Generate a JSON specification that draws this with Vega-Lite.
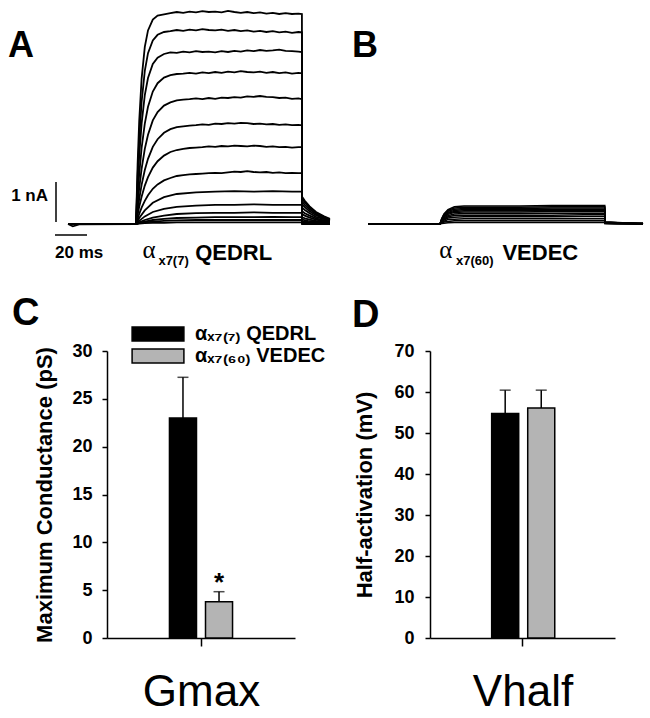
{
"$schema":"https://vega.github.io/schema/vega-lite/v6.json",
"padding":{"left":8,"top":0,"right":0,"bottom":0},
"autosize":{"type":"pad"},
"bounds":"flush",
"columns":2,
"spacing":{"row":61,"column":135},
"resolve":{"scale":{"color":"independent"}},
"config":{"font":"Liberation Sans","view":{"stroke":null},"axis":{"labelColor":"black","titleColor":"black","domainColor":"black","tickColor":"black","labelFont":"Liberation Sans","titleFont":"Liberation Sans","grid":false},"title":{"color":"black","font":"Liberation Sans"},"text":{"color":"black"}},
"datasets":{
"tracesA":[
{"s":1,"t":0,"i":0},{"s":1,"t":3,"i":-0.06},{"s":1,"t":7,"i":-0.01},{"s":1,"t":42.5,"i":0},{"s":1,"t":43.5,"i":1.49},{"s":1,"t":44.5,"i":2.57},{"s":1,"t":46,"i":3.63},{"s":1,"t":48,"i":4.43},{"s":1,"t":50,"i":4.84},{"s":1,"t":53,"i":5.11},{"s":1,"t":56,"i":5.21},{"s":1,"t":60,"i":5.24},{"s":1,"t":64,"i":5.27},{"s":1,"t":68,"i":5.30},{"s":1,"t":72,"i":5.28},{"s":1,"t":76,"i":5.31},{"s":1,"t":80,"i":5.29},{"s":1,"t":84,"i":5.32},{"s":1,"t":88,"i":5.30},{"s":1,"t":92,"i":5.31},{"s":1,"t":96,"i":5.29},{"s":1,"t":100,"i":5.33},{"s":1,"t":104,"i":5.30},{"s":1,"t":108,"i":5.28},{"s":1,"t":112,"i":5.30},{"s":1,"t":116,"i":5.27},{"s":1,"t":120,"i":5.29},{"s":1,"t":124,"i":5.26},{"s":1,"t":128,"i":5.28},{"s":1,"t":132,"i":5.25},{"s":1,"t":136,"i":5.27},{"s":1,"t":140,"i":5.25},{"s":1,"t":144,"i":5.26},{"s":1,"t":146.2,"i":5.25},{"s":1,"t":146.3,"i":0.68},{"s":1,"t":148,"i":0.58},{"s":1,"t":151,"i":0.44},{"s":1,"t":155,"i":0.30},{"s":1,"t":160,"i":0.19},{"s":1,"t":163.7,"i":0.13},
{"s":2,"t":0,"i":0},{"s":2,"t":42.5,"i":0},{"s":2,"t":43.5,"i":1.20},{"s":2,"t":44.5,"i":2.10},{"s":2,"t":46,"i":3.05},{"s":2,"t":48,"i":3.83},{"s":2,"t":50,"i":4.27},{"s":2,"t":53,"i":4.59},{"s":2,"t":56,"i":4.73},{"s":2,"t":60,"i":4.80},{"s":2,"t":64,"i":4.82},{"s":2,"t":68,"i":4.85},{"s":2,"t":72,"i":4.83},{"s":2,"t":76,"i":4.86},{"s":2,"t":80,"i":4.84},{"s":2,"t":84,"i":4.87},{"s":2,"t":88,"i":4.85},{"s":2,"t":92,"i":4.84},{"s":2,"t":96,"i":4.86},{"s":2,"t":100,"i":4.83},{"s":2,"t":104,"i":4.85},{"s":2,"t":108,"i":4.82},{"s":2,"t":112,"i":4.84},{"s":2,"t":116,"i":4.81},{"s":2,"t":120,"i":4.83},{"s":2,"t":124,"i":4.80},{"s":2,"t":128,"i":4.82},{"s":2,"t":132,"i":4.79},{"s":2,"t":136,"i":4.81},{"s":2,"t":140,"i":4.78},{"s":2,"t":144,"i":4.80},{"s":2,"t":146.2,"i":4.79},{"s":2,"t":146.3,"i":0.63},{"s":2,"t":148,"i":0.54},{"s":2,"t":151,"i":0.41},{"s":2,"t":155,"i":0.28},{"s":2,"t":160,"i":0.18},{"s":2,"t":163.7,"i":0.11},
{"s":3,"t":0,"i":0},{"s":3,"t":42.5,"i":0},{"s":3,"t":43.5,"i":0.95},{"s":3,"t":44.5,"i":1.70},{"s":3,"t":46,"i":2.51},{"s":3,"t":48,"i":3.22},{"s":3,"t":50,"i":3.65},{"s":3,"t":53,"i":4.00},{"s":3,"t":56,"i":4.16},{"s":3,"t":60,"i":4.25},{"s":3,"t":64,"i":4.29},{"s":3,"t":68,"i":4.28},{"s":3,"t":72,"i":4.31},{"s":3,"t":76,"i":4.29},{"s":3,"t":80,"i":4.32},{"s":3,"t":84,"i":4.30},{"s":3,"t":88,"i":4.31},{"s":3,"t":92,"i":4.29},{"s":3,"t":96,"i":4.32},{"s":3,"t":100,"i":4.30},{"s":3,"t":104,"i":4.33},{"s":3,"t":108,"i":4.31},{"s":3,"t":112,"i":4.34},{"s":3,"t":116,"i":4.32},{"s":3,"t":120,"i":4.35},{"s":3,"t":124,"i":4.33},{"s":3,"t":128,"i":4.34},{"s":3,"t":132,"i":4.36},{"s":3,"t":136,"i":4.33},{"s":3,"t":140,"i":4.32},{"s":3,"t":144,"i":4.31},{"s":3,"t":146.2,"i":4.30},{"s":3,"t":146.3,"i":0.56},{"s":3,"t":148,"i":0.48},{"s":3,"t":151,"i":0.37},{"s":3,"t":155,"i":0.25},{"s":3,"t":160,"i":0.16},{"s":3,"t":163.7,"i":0.10},
{"s":4,"t":0,"i":0},{"s":4,"t":42.5,"i":0},{"s":4,"t":43.5,"i":0.68},{"s":4,"t":44.5,"i":1.24},{"s":4,"t":46,"i":1.90},{"s":4,"t":48,"i":2.51},{"s":4,"t":50,"i":2.93},{"s":4,"t":53,"i":3.31},{"s":4,"t":56,"i":3.52},{"s":4,"t":60,"i":3.66},{"s":4,"t":64,"i":3.72},{"s":4,"t":68,"i":3.75},{"s":4,"t":72,"i":3.76},{"s":4,"t":76,"i":3.78},{"s":4,"t":80,"i":3.76},{"s":4,"t":84,"i":3.79},{"s":4,"t":88,"i":3.77},{"s":4,"t":92,"i":3.80},{"s":4,"t":96,"i":3.78},{"s":4,"t":100,"i":3.81},{"s":4,"t":104,"i":3.79},{"s":4,"t":108,"i":3.82},{"s":4,"t":112,"i":3.80},{"s":4,"t":116,"i":3.79},{"s":4,"t":120,"i":3.81},{"s":4,"t":124,"i":3.78},{"s":4,"t":128,"i":3.80},{"s":4,"t":132,"i":3.77},{"s":4,"t":136,"i":3.79},{"s":4,"t":140,"i":3.76},{"s":4,"t":144,"i":3.78},{"s":4,"t":146.2,"i":3.77},{"s":4,"t":146.3,"i":0.49},{"s":4,"t":148,"i":0.42},{"s":4,"t":151,"i":0.32},{"s":4,"t":155,"i":0.22},{"s":4,"t":160,"i":0.14},{"s":4,"t":163.7,"i":0.09},
{"s":5,"t":0,"i":0},{"s":5,"t":42.5,"i":0},{"s":5,"t":43.5,"i":0.48},{"s":5,"t":44.5,"i":0.89},{"s":5,"t":46,"i":1.38},{"s":5,"t":48,"i":1.88},{"s":5,"t":50,"i":2.23},{"s":5,"t":53,"i":2.59},{"s":5,"t":56,"i":2.80},{"s":5,"t":60,"i":2.96},{"s":5,"t":64,"i":3.04},{"s":5,"t":68,"i":3.09},{"s":5,"t":72,"i":3.11},{"s":5,"t":76,"i":3.12},{"s":5,"t":80,"i":3.14},{"s":5,"t":84,"i":3.12},{"s":5,"t":88,"i":3.15},{"s":5,"t":92,"i":3.13},{"s":5,"t":96,"i":3.16},{"s":5,"t":100,"i":3.15},{"s":5,"t":104,"i":3.17},{"s":5,"t":108,"i":3.16},{"s":5,"t":112,"i":3.19},{"s":5,"t":116,"i":3.18},{"s":5,"t":120,"i":3.20},{"s":5,"t":124,"i":3.18},{"s":5,"t":128,"i":3.17},{"s":5,"t":132,"i":3.15},{"s":5,"t":136,"i":3.16},{"s":5,"t":140,"i":3.13},{"s":5,"t":144,"i":3.14},{"s":5,"t":146.2,"i":3.12},{"s":5,"t":146.3,"i":0.41},{"s":5,"t":148,"i":0.35},{"s":5,"t":151,"i":0.27},{"s":5,"t":155,"i":0.18},{"s":5,"t":160,"i":0.12},{"s":5,"t":163.7,"i":0.07},
{"s":6,"t":0,"i":0},{"s":6,"t":42.5,"i":0},{"s":6,"t":43.5,"i":0.33},{"s":6,"t":44.5,"i":0.62},{"s":6,"t":46,"i":0.98},{"s":6,"t":48,"i":1.35},{"s":6,"t":50,"i":1.63},{"s":6,"t":53,"i":1.93},{"s":6,"t":56,"i":2.12},{"s":6,"t":60,"i":2.28},{"s":6,"t":64,"i":2.37},{"s":6,"t":68,"i":2.42},{"s":6,"t":72,"i":2.44},{"s":6,"t":76,"i":2.46},{"s":6,"t":80,"i":2.47},{"s":6,"t":84,"i":2.49},{"s":6,"t":88,"i":2.48},{"s":6,"t":92,"i":2.51},{"s":6,"t":96,"i":2.50},{"s":6,"t":100,"i":2.52},{"s":6,"t":104,"i":2.51},{"s":6,"t":108,"i":2.53},{"s":6,"t":112,"i":2.52},{"s":6,"t":116,"i":2.50},{"s":6,"t":120,"i":2.51},{"s":6,"t":124,"i":2.49},{"s":6,"t":128,"i":2.50},{"s":6,"t":132,"i":2.48},{"s":6,"t":136,"i":2.49},{"s":6,"t":140,"i":2.47},{"s":6,"t":144,"i":2.48},{"s":6,"t":146.2,"i":2.47},{"s":6,"t":146.3,"i":0.32},{"s":6,"t":148,"i":0.27},{"s":6,"t":151,"i":0.21},{"s":6,"t":155,"i":0.14},{"s":6,"t":160,"i":0.09},{"s":6,"t":163.7,"i":0.06},
{"s":7,"t":0,"i":0},{"s":7,"t":42.5,"i":0},{"s":7,"t":43.5,"i":0.23},{"s":7,"t":44.5,"i":0.43},{"s":7,"t":46,"i":0.68},{"s":7,"t":48,"i":0.96},{"s":7,"t":50,"i":1.17},{"s":7,"t":53,"i":1.41},{"s":7,"t":56,"i":1.57},{"s":7,"t":60,"i":1.71},{"s":7,"t":64,"i":1.80},{"s":7,"t":68,"i":1.85},{"s":7,"t":72,"i":1.88},{"s":7,"t":76,"i":1.90},{"s":7,"t":80,"i":1.91},{"s":7,"t":84,"i":1.92},{"s":7,"t":88,"i":1.94},{"s":7,"t":92,"i":1.93},{"s":7,"t":96,"i":1.95},{"s":7,"t":100,"i":1.94},{"s":7,"t":104,"i":1.96},{"s":7,"t":108,"i":1.95},{"s":7,"t":112,"i":1.94},{"s":7,"t":116,"i":1.96},{"s":7,"t":120,"i":1.95},{"s":7,"t":124,"i":1.93},{"s":7,"t":128,"i":1.94},{"s":7,"t":132,"i":1.92},{"s":7,"t":136,"i":1.93},{"s":7,"t":140,"i":1.91},{"s":7,"t":144,"i":1.92},{"s":7,"t":146.2,"i":1.92},{"s":7,"t":146.3,"i":0.25},{"s":7,"t":148,"i":0.21},{"s":7,"t":151,"i":0.16},{"s":7,"t":155,"i":0.11},{"s":7,"t":160,"i":0.07},{"s":7,"t":163.7,"i":0.04},
{"s":8,"t":0,"i":0},{"s":8,"t":42.5,"i":0},{"s":8,"t":43.5,"i":0.13},{"s":8,"t":44.5,"i":0.25},{"s":8,"t":46,"i":0.41},{"s":8,"t":48,"i":0.58},{"s":8,"t":50,"i":0.72},{"s":8,"t":53,"i":0.88},{"s":8,"t":56,"i":0.99},{"s":8,"t":60,"i":1.09},{"s":8,"t":64,"i":1.15},{"s":8,"t":68,"i":1.20},{"s":8,"t":72,"i":1.22},{"s":8,"t":76,"i":1.24},{"s":8,"t":80,"i":1.25},{"s":8,"t":84,"i":1.26},{"s":8,"t":88,"i":1.27},{"s":8,"t":92,"i":1.28},{"s":8,"t":96,"i":1.27},{"s":8,"t":100,"i":1.29},{"s":8,"t":104,"i":1.31},{"s":8,"t":108,"i":1.30},{"s":8,"t":112,"i":1.32},{"s":8,"t":116,"i":1.30},{"s":8,"t":120,"i":1.29},{"s":8,"t":124,"i":1.30},{"s":8,"t":128,"i":1.28},{"s":8,"t":132,"i":1.29},{"s":8,"t":136,"i":1.27},{"s":8,"t":140,"i":1.28},{"s":8,"t":144,"i":1.27},{"s":8,"t":146.2,"i":1.27},{"s":8,"t":146.3,"i":0.17},{"s":8,"t":148,"i":0.14},{"s":8,"t":151,"i":0.11},{"s":8,"t":155,"i":0.08},{"s":8,"t":160,"i":0.05},{"s":8,"t":163.7,"i":0.03},
{"s":9,"t":0,"i":0},{"s":9,"t":42.5,"i":0},{"s":9,"t":44.5,"i":0.15},{"s":9,"t":48,"i":0.34},{"s":9,"t":53,"i":0.53},{"s":9,"t":60,"i":0.67},{"s":9,"t":68,"i":0.75},{"s":9,"t":80,"i":0.79},{"s":9,"t":92,"i":0.81},{"s":9,"t":104,"i":0.82},{"s":9,"t":116,"i":0.81},{"s":9,"t":128,"i":0.82},{"s":9,"t":140,"i":0.81},{"s":9,"t":146.2,"i":0.81},{"s":9,"t":146.3,"i":0.11},{"s":9,"t":150,"i":0.08},{"s":9,"t":155,"i":0.06},{"s":9,"t":163.7,"i":0.02},
{"s":10,"t":0,"i":0},{"s":10,"t":42.5,"i":0},{"s":10,"t":44.5,"i":0.08},{"s":10,"t":48,"i":0.19},{"s":10,"t":53,"i":0.30},{"s":10,"t":60,"i":0.38},{"s":10,"t":68,"i":0.43},{"s":10,"t":80,"i":0.46},{"s":10,"t":92,"i":0.48},{"s":10,"t":104,"i":0.48},{"s":10,"t":116,"i":0.49},{"s":10,"t":128,"i":0.48},{"s":10,"t":140,"i":0.48},{"s":10,"t":146.2,"i":0.48},{"s":10,"t":146.3,"i":0.07},{"s":10,"t":150,"i":0.05},{"s":10,"t":155,"i":0.04},{"s":10,"t":163.7,"i":0.01},
{"s":11,"t":0,"i":0},{"s":11,"t":42.5,"i":0},{"s":11,"t":44.5,"i":0.04},{"s":11,"t":48,"i":0.10},{"s":11,"t":53,"i":0.16},{"s":11,"t":60,"i":0.21},{"s":11,"t":68,"i":0.25},{"s":11,"t":80,"i":0.27},{"s":11,"t":92,"i":0.28},{"s":11,"t":104,"i":0.28},{"s":11,"t":116,"i":0.29},{"s":11,"t":128,"i":0.28},{"s":11,"t":140,"i":0.28},{"s":11,"t":146.2,"i":0.28},{"s":11,"t":146.3,"i":0.04},{"s":11,"t":150,"i":0.03},{"s":11,"t":155,"i":0.02},{"s":11,"t":163.7,"i":0.01},
{"s":12,"t":0,"i":0},{"s":12,"t":42.5,"i":0},{"s":12,"t":44.5,"i":0.03},{"s":12,"t":48,"i":0.06},{"s":12,"t":53,"i":0.10},{"s":12,"t":60,"i":0.13},{"s":12,"t":68,"i":0.15},{"s":12,"t":80,"i":0.16},{"s":12,"t":92,"i":0.17},{"s":12,"t":104,"i":0.17},{"s":12,"t":116,"i":0.17},{"s":12,"t":128,"i":0.18},{"s":12,"t":140,"i":0.17},{"s":12,"t":146.2,"i":0.17},{"s":12,"t":146.3,"i":0.02},{"s":12,"t":150,"i":0.01},{"s":12,"t":155,"i":0.01},{"s":12,"t":163.7,"i":0},
{"s":13,"t":0,"i":0},{"s":13,"t":42.5,"i":0},{"s":13,"t":44.5,"i":0.02},{"s":13,"t":48,"i":0.04},{"s":13,"t":53,"i":0.06},{"s":13,"t":60,"i":0.08},{"s":13,"t":68,"i":0.09},{"s":13,"t":80,"i":0.10},{"s":13,"t":92,"i":0.10},{"s":13,"t":104,"i":0.10},{"s":13,"t":116,"i":0.10},{"s":13,"t":128,"i":0.10},{"s":13,"t":140,"i":0.10},{"s":13,"t":146.2,"i":0.10},{"s":13,"t":146.3,"i":0.01},{"s":13,"t":150,"i":0.01},{"s":13,"t":155,"i":0},{"s":13,"t":163.7,"i":0},
{"s":14,"t":0,"i":0},{"s":14,"t":42.5,"i":0},{"s":14,"t":44.5,"i":0.01},{"s":14,"t":48,"i":0.02},{"s":14,"t":53,"i":0.03},{"s":14,"t":60,"i":0.03},{"s":14,"t":68,"i":0.04},{"s":14,"t":80,"i":0.04},{"s":14,"t":92,"i":0.04},{"s":14,"t":104,"i":0.04},{"s":14,"t":116,"i":0.04},{"s":14,"t":128,"i":0.04},{"s":14,"t":140,"i":0.04},{"s":14,"t":146.2,"i":0.04},{"s":14,"t":146.3,"i":0},{"s":14,"t":150,"i":0},{"s":14,"t":155,"i":0},{"s":14,"t":163.7,"i":0}
],
"tracesB":[
{"s":1,"t":0,"i":0},{"s":1,"t":45,"i":0},{"s":1,"t":46,"i":0.13},{"s":1,"t":47.5,"i":0.25},{"s":1,"t":50,"i":0.36},{"s":1,"t":54,"i":0.43},{"s":1,"t":60,"i":0.45},{"s":1,"t":75,"i":0.45},{"s":1,"t":95,"i":0.45},{"s":1,"t":115,"i":0.46},{"s":1,"t":135,"i":0.46},{"s":1,"t":148,"i":0.46},{"s":1,"t":148.1,"i":0.05},{"s":1,"t":156,"i":0.04},{"s":1,"t":165,"i":0.02},{"s":1,"t":171.9,"i":0.01},
{"s":2,"t":0,"i":0},{"s":2,"t":45,"i":0},{"s":2,"t":46,"i":0.12},{"s":2,"t":47.5,"i":0.24},{"s":2,"t":50,"i":0.34},{"s":2,"t":54,"i":0.40},{"s":2,"t":60,"i":0.42},{"s":2,"t":75,"i":0.42},{"s":2,"t":95,"i":0.42},{"s":2,"t":115,"i":0.43},{"s":2,"t":135,"i":0.43},{"s":2,"t":148,"i":0.43},{"s":2,"t":148.1,"i":0.05},{"s":2,"t":156,"i":0.03},{"s":2,"t":165,"i":0.02},{"s":2,"t":171.9,"i":0.01},
{"s":3,"t":0,"i":0},{"s":3,"t":45,"i":0},{"s":3,"t":46,"i":0.11},{"s":3,"t":47.5,"i":0.22},{"s":3,"t":50,"i":0.32},{"s":3,"t":54,"i":0.37},{"s":3,"t":60,"i":0.39},{"s":3,"t":75,"i":0.39},{"s":3,"t":95,"i":0.39},{"s":3,"t":115,"i":0.40},{"s":3,"t":135,"i":0.40},{"s":3,"t":148,"i":0.40},{"s":3,"t":148.1,"i":0.05},{"s":3,"t":156,"i":0.03},{"s":3,"t":165,"i":0.02},{"s":3,"t":171.9,"i":0.01},
{"s":4,"t":0,"i":0},{"s":4,"t":45,"i":0},{"s":4,"t":46,"i":0.10},{"s":4,"t":47.5,"i":0.20},{"s":4,"t":50,"i":0.29},{"s":4,"t":54,"i":0.34},{"s":4,"t":60,"i":0.36},{"s":4,"t":75,"i":0.36},{"s":4,"t":95,"i":0.36},{"s":4,"t":115,"i":0.37},{"s":4,"t":135,"i":0.37},{"s":4,"t":148,"i":0.37},{"s":4,"t":148.1,"i":0.04},{"s":4,"t":156,"i":0.03},{"s":4,"t":165,"i":0.02},{"s":4,"t":171.9,"i":0.01},
{"s":5,"t":0,"i":0},{"s":5,"t":45,"i":0},{"s":5,"t":46,"i":0.09},{"s":5,"t":47.5,"i":0.19},{"s":5,"t":50,"i":0.27},{"s":5,"t":54,"i":0.31},{"s":5,"t":60,"i":0.33},{"s":5,"t":75,"i":0.33},{"s":5,"t":95,"i":0.33},{"s":5,"t":115,"i":0.34},{"s":5,"t":135,"i":0.34},{"s":5,"t":148,"i":0.34},{"s":5,"t":148.1,"i":0.04},{"s":5,"t":156,"i":0.03},{"s":5,"t":165,"i":0.01},{"s":5,"t":171.9,"i":0.01},
{"s":6,"t":0,"i":0},{"s":6,"t":45,"i":0},{"s":6,"t":46,"i":0.08},{"s":6,"t":47.5,"i":0.17},{"s":6,"t":50,"i":0.24},{"s":6,"t":54,"i":0.29},{"s":6,"t":60,"i":0.30},{"s":6,"t":75,"i":0.30},{"s":6,"t":95,"i":0.30},{"s":6,"t":115,"i":0.31},{"s":6,"t":135,"i":0.31},{"s":6,"t":148,"i":0.31},{"s":6,"t":148.1,"i":0.04},{"s":6,"t":156,"i":0.02},{"s":6,"t":165,"i":0.01},{"s":6,"t":171.9,"i":0.01},
{"s":7,"t":0,"i":0},{"s":7,"t":45,"i":0},{"s":7,"t":46,"i":0.07},{"s":7,"t":47.5,"i":0.15},{"s":7,"t":50,"i":0.21},{"s":7,"t":54,"i":0.25},{"s":7,"t":60,"i":0.26},{"s":7,"t":75,"i":0.26},{"s":7,"t":95,"i":0.26},{"s":7,"t":115,"i":0.27},{"s":7,"t":135,"i":0.27},{"s":7,"t":148,"i":0.27},{"s":7,"t":148.1,"i":0.03},{"s":7,"t":156,"i":0.02},{"s":7,"t":165,"i":0.01},{"s":7,"t":171.9,"i":0.01},
{"s":8,"t":0,"i":0},{"s":8,"t":45,"i":0},{"s":8,"t":46,"i":0.06},{"s":8,"t":47.5,"i":0.12},{"s":8,"t":50,"i":0.18},{"s":8,"t":54,"i":0.21},{"s":8,"t":60,"i":0.22},{"s":8,"t":75,"i":0.22},{"s":8,"t":95,"i":0.22},{"s":8,"t":115,"i":0.22},{"s":8,"t":135,"i":0.23},{"s":8,"t":148,"i":0.23},{"s":8,"t":148.1,"i":0.03},{"s":8,"t":156,"i":0.02},{"s":8,"t":165,"i":0.01},{"s":8,"t":171.9,"i":0},
{"s":9,"t":0,"i":0},{"s":9,"t":45,"i":0},{"s":9,"t":46,"i":0.05},{"s":9,"t":47.5,"i":0.10},{"s":9,"t":50,"i":0.15},{"s":9,"t":54,"i":0.17},{"s":9,"t":60,"i":0.18},{"s":9,"t":75,"i":0.18},{"s":9,"t":95,"i":0.18},{"s":9,"t":115,"i":0.18},{"s":9,"t":135,"i":0.19},{"s":9,"t":148,"i":0.19},{"s":9,"t":148.1,"i":0.02},{"s":9,"t":156,"i":0.01},{"s":9,"t":165,"i":0.01},{"s":9,"t":171.9,"i":0},
{"s":10,"t":0,"i":0},{"s":10,"t":45,"i":0},{"s":10,"t":46,"i":0.04},{"s":10,"t":47.5,"i":0.07},{"s":10,"t":50,"i":0.11},{"s":10,"t":54,"i":0.12},{"s":10,"t":60,"i":0.13},{"s":10,"t":75,"i":0.13},{"s":10,"t":95,"i":0.13},{"s":10,"t":115,"i":0.13},{"s":10,"t":135,"i":0.13},{"s":10,"t":148,"i":0.13},{"s":10,"t":148.1,"i":0.02},{"s":10,"t":156,"i":0.01},{"s":10,"t":165,"i":0.01},{"s":10,"t":171.9,"i":0},
{"s":11,"t":0,"i":0},{"s":11,"t":45,"i":0},{"s":11,"t":46,"i":0.02},{"s":11,"t":47.5,"i":0.05},{"s":11,"t":50,"i":0.06},{"s":11,"t":54,"i":0.08},{"s":11,"t":60,"i":0.08},{"s":11,"t":75,"i":0.08},{"s":11,"t":95,"i":0.08},{"s":11,"t":115,"i":0.08},{"s":11,"t":135,"i":0.08},{"s":11,"t":148,"i":0.08},{"s":11,"t":148.1,"i":0.01},{"s":11,"t":156,"i":0.01},{"s":11,"t":165,"i":0},{"s":11,"t":171.9,"i":0},
{"s":12,"t":0,"i":0},{"s":12,"t":45,"i":0},{"s":12,"t":46,"i":0.01},{"s":12,"t":47.5,"i":0.02},{"s":12,"t":50,"i":0.03},{"s":12,"t":54,"i":0.04},{"s":12,"t":60,"i":0.04},{"s":12,"t":75,"i":0.04},{"s":12,"t":95,"i":0.04},{"s":12,"t":115,"i":0.04},{"s":12,"t":135,"i":0.04},{"s":12,"t":148,"i":0.04},{"s":12,"t":148.1,"i":0.01},{"s":12,"t":156,"i":0},{"s":12,"t":165,"i":0},{"s":12,"t":171.9,"i":0}
],
"gmax":[
{"param":"Gmax","group":"αₓ₇₍₇₎ QEDRL","mean":23.0,"upper":27.25,"sig":""},
{"param":"Gmax","group":"αₓ₇₍₆₀₎ VEDEC","mean":3.8,"upper":4.84,"sig":"*"}
],
"vhalf":[
{"param":"Vhalf","group":"αₓ₇₍₇₎ QEDRL","mean":54.75,"upper":60.45},
{"param":"Vhalf","group":"αₓ₇₍₆₀₎ VEDEC","mean":56.1,"upper":60.45}
]
},
"concat":[
{
"width":188,"height":290,
"layer":[
{"data":{"name":"tracesA"},"mark":{"type":"line","color":"black","strokeWidth":1.8},
 "encoding":{"x":{"field":"t","type":"quantitative","scale":{"domain":[24.375,141.875],"nice":false,"zero":false},"axis":null},
 "y":{"field":"i","type":"quantitative","scale":{"domain":[-1.65,5.6],"nice":false,"zero":false},"axis":null},
 "detail":{"field":"s","type":"nominal"}}},
{"data":{"values":[{}]},"mark":{"type":"rule","color":"black","strokeWidth":1.5},
 "encoding":{"x":{"datum":-7.5,"type":"quantitative","axis":null},"y":{"datum":0.05,"type":"quantitative","axis":null},"y2":{"datum":1.05}}},
{"data":{"values":[{}]},"mark":{"type":"rule","color":"black","strokeWidth":1.5},
 "encoding":{"x":{"datum":-8.125,"type":"quantitative","axis":null},"x2":{"datum":11.875},"y":{"datum":-0.275,"type":"quantitative","axis":null}}},
{"data":{"values":[{}]},"mark":{"type":"text","text":"1 nA","align":"right","baseline":"middle","fontSize":17,"fontWeight":"bold"},
 "encoding":{"x":{"datum":-12.5,"type":"quantitative","axis":null},"y":{"datum":0.7,"type":"quantitative","axis":null}}},
{"data":{"values":[{}]},"mark":{"type":"text","text":"20 ms","align":"left","baseline":"alphabetic","fontSize":17,"fontWeight":"bold"},
 "encoding":{"x":{"datum":-8.125,"type":"quantitative","axis":null},"y":{"datum":-0.85,"type":"quantitative","axis":null}}},
{"data":{"values":[{}]},"mark":{"type":"text","text":"A","align":"left","baseline":"alphabetic","fontSize":36,"fontWeight":"bold"},
 "encoding":{"x":{"datum":-37.5,"type":"quantitative","axis":null},"y":{"datum":4.175,"type":"quantitative","axis":null}}},
{"data":{"values":[{}]},"mark":{"type":"text","text":"α","align":"left","baseline":"alphabetic","fontSize":25,"font":"Liberation Serif"},
 "encoding":{"x":{"datum":46.5,"type":"quantitative","axis":null},"y":{"datum":-0.85,"type":"quantitative","axis":null}}},
{"data":{"values":[{}]},"mark":{"type":"text","text":"x7(7)","align":"left","baseline":"alphabetic","fontSize":13,"fontWeight":"bold"},
 "encoding":{"x":{"datum":56.5,"type":"quantitative","axis":null},"y":{"datum":-1.025,"type":"quantitative","axis":null}}},
{"data":{"values":[{}]},"mark":{"type":"text","text":"QEDRL","align":"left","baseline":"alphabetic","fontSize":22,"fontWeight":"bold"},
 "encoding":{"x":{"datum":79.5,"type":"quantitative","axis":null},"y":{"datum":-0.9,"type":"quantitative","axis":null}}}
]
},
{
"width":188,"height":290,
"layer":[
{"data":{"name":"tracesB"},"mark":{"type":"line","color":"black","strokeWidth":1.5},
 "encoding":{"x":{"field":"t","type":"quantitative","scale":{"domain":[38.75,156.25],"nice":false,"zero":false},"axis":null},
 "y":{"field":"i","type":"quantitative","scale":{"domain":[-1.65,5.6],"nice":false,"zero":false},"axis":null},
 "detail":{"field":"s","type":"nominal"}}},
{"data":{"values":[{}]},"mark":{"type":"text","text":"B","align":"left","baseline":"alphabetic","fontSize":36,"fontWeight":"bold"},
 "encoding":{"x":{"datum":-10,"type":"quantitative","axis":null},"y":{"datum":4.175,"type":"quantitative","axis":null}}},
{"data":{"values":[{}]},"mark":{"type":"text","text":"α","align":"left","baseline":"alphabetic","fontSize":25,"font":"Liberation Serif"},
 "encoding":{"x":{"datum":44.5,"type":"quantitative","axis":null},"y":{"datum":-0.85,"type":"quantitative","axis":null}}},
{"data":{"values":[{}]},"mark":{"type":"text","text":"x7(60)","align":"left","baseline":"alphabetic","fontSize":13,"fontWeight":"bold"},
 "encoding":{"x":{"datum":55,"type":"quantitative","axis":null},"y":{"datum":-1.025,"type":"quantitative","axis":null}}},
{"data":{"values":[{}]},"mark":{"type":"text","text":"VEDEC","align":"left","baseline":"alphabetic","fontSize":22,"fontWeight":"bold"},
 "encoding":{"x":{"datum":84,"type":"quantitative","axis":null},"y":{"datum":-0.9,"type":"quantitative","axis":null}}}
]
},
{
"width":188,"height":287,
"title":{"text":"C","anchor":"start","frame":"group","fontSize":38,"fontWeight":"bold","dx":-95,"offset":7,"dy":16},
"data":{"name":"gmax"},
"encoding":{
 "x":{"field":"param","type":"nominal","title":"Gmax","scale":{"paddingInner":0,"paddingOuter":0.99},
  "axis":{"labels":false,"tickSize":8,"tickWidth":1.5,"domainWidth":1.5,"titleFontSize":44,"titleFontWeight":"normal","titlePadding":24}},
 "xOffset":{"field":"group","type":"nominal","scale":{"domain":["αₓ₇₍₇₎ QEDRL","αₓ₇₍₆₀₎ VEDEC"],"paddingInner":0.25,"paddingOuter":0}}
},
"layer":[
{"mark":{"type":"bar","stroke":"black","strokeWidth":1.5},
 "encoding":{"y":{"field":"mean","type":"quantitative","title":"Maximum Conductance (pS)","scale":{"domain":[0,30],"nice":false},
  "axis":{"values":[0,5,10,15,20,25,30],"tickSize":5,"tickWidth":1.5,"domainWidth":1.5,"labelPadding":10,"labelFontSize":18,"labelFontWeight":"bold","titleFontSize":22,"titleFontWeight":"bold","titlePadding":15}},
  "color":{"field":"group","type":"nominal","scale":{"domain":["αₓ₇₍₇₎ QEDRL","αₓ₇₍₆₀₎ VEDEC"],"range":["black","#b4b4b4"]},
   "legend":{"orient":"none","legendX":41,"legendY":-27,"title":null,"symbolType":"M-3.7,-1H3.7V1H-3.7Z","symbolSize":196,"symbolStrokeColor":"black","symbolStrokeWidth":1.5,"symbolOpacity":1,"labelFontSize":20,"labelFontWeight":"bold","labelOffset":27,"rowPadding":2,"labelColor":"black","labelFont":"Liberation Sans"}}}},
{"mark":{"type":"rule","color":"black","strokeWidth":1.5},
 "encoding":{"y":{"field":"mean","type":"quantitative","title":"Maximum Conductance (pS)"},"y2":{"field":"upper"}}},
{"mark":{"type":"tick","color":"black","thickness":1.5,"size":11},
 "encoding":{"y":{"field":"upper","type":"quantitative","title":"Maximum Conductance (pS)"}}},
{"mark":{"type":"text","fontSize":26,"fontWeight":"bold","baseline":"alphabetic","dy":-1},
 "encoding":{"y":{"field":"upper","type":"quantitative","title":"Maximum Conductance (pS)"},"text":{"field":"sig"}}}
]
},
{
"width":185,"height":287,
"title":{"text":"D","anchor":"start","frame":"group","fontSize":38,"fontWeight":"bold","dx":-78,"offset":7},
"data":{"name":"vhalf"},
"encoding":{
 "x":{"field":"param","type":"nominal","title":"Vhalf","scale":{"paddingInner":0,"paddingOuter":1.04},
  "axis":{"labels":false,"tickSize":8,"tickWidth":1.5,"domainWidth":1.5,"titleFontSize":44,"titleFontWeight":"normal","titlePadding":24}},
 "xOffset":{"field":"group","type":"nominal","scale":{"domain":["αₓ₇₍₇₎ QEDRL","αₓ₇₍₆₀₎ VEDEC"],"paddingInner":0.25,"paddingOuter":0}}
},
"layer":[
{"mark":{"type":"bar","stroke":"black","strokeWidth":1.5},
 "encoding":{"y":{"field":"mean","type":"quantitative","title":"Half-activation (mV)","scale":{"domain":[0,70],"nice":false},
  "axis":{"values":[0,10,20,30,40,50,60,70],"tickSize":5,"tickWidth":1.5,"domainWidth":1.5,"labelPadding":11,"labelFontSize":18,"labelFontWeight":"bold","titleFontSize":22,"titleFontWeight":"bold","titlePadding":17}},
  "color":{"field":"group","type":"nominal","scale":{"domain":["αₓ₇₍₇₎ QEDRL","αₓ₇₍₆₀₎ VEDEC"],"range":["black","#b4b4b4"]},"legend":null}}},
{"mark":{"type":"rule","color":"black","strokeWidth":1.5},
 "encoding":{"y":{"field":"mean","type":"quantitative","title":"Half-activation (mV)"},"y2":{"field":"upper"}}},
{"mark":{"type":"tick","color":"black","thickness":1.5,"size":11},
 "encoding":{"y":{"field":"upper","type":"quantitative","title":"Half-activation (mV)"}}}
]
}
]
}
